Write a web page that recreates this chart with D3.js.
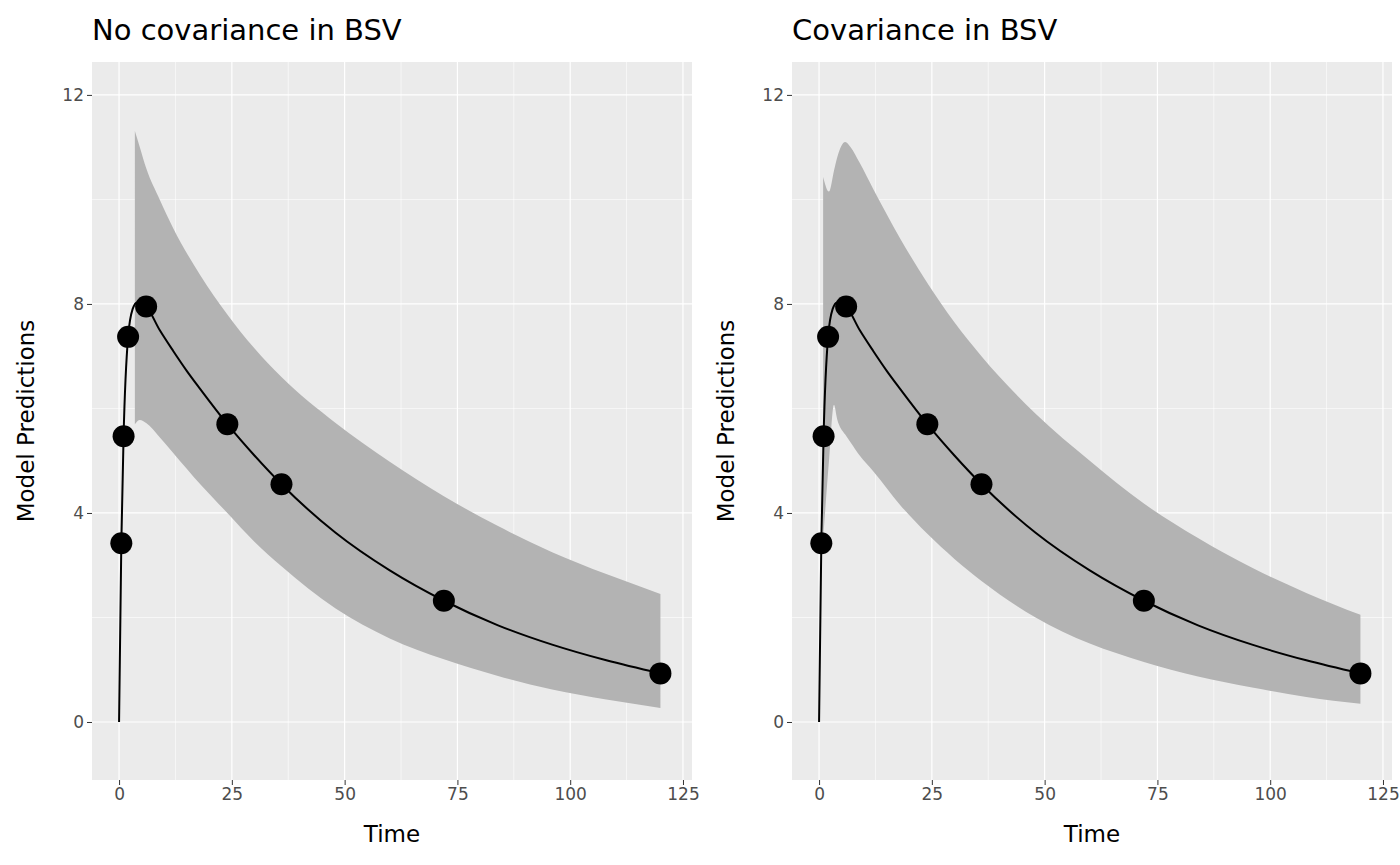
<!DOCTYPE html><html><head><meta charset="utf-8"><script src="https://cdn.jsdelivr.net/npm/d3@7"></script>
<style>body{margin:0;background:#fff}text{font-family:"DejaVu Sans",sans-serif}</style></head><body><svg id="c" width="1400" height="865"></svg><script>
const titles=["No covariance in BSV","Covariance in BSV"];
const lineT=[0,0.5,1,2,3,4,6,9,12,15,18,24,30,36,48,60,72,84,96,108,120];
const lineV=[0,3.42,5.47,7.37,7.9,8.03,7.95,7.5,7.1,6.72,6.37,5.7,5.1,4.55,3.62,2.9,2.32,1.85,1.48,1.18,0.93];
const obsT=[0.5,1,2,6,24,36,72,120];
const obsV=[3.42,5.47,7.37,7.95,5.7,4.55,2.32,0.93];
const ribT1=[3.5,4.6,6,9,12,18,24,30,36,48,60,72,84,96,108,120];
const ribLo1=[5.7,5.78,5.72,5.45,5.15,4.55,4.0,3.45,2.98,2.17,1.6,1.2,0.88,0.62,0.43,0.27];
const ribHi1=[11.31,11.0,10.6,10.0,9.45,8.55,7.8,7.15,6.6,5.72,4.98,4.32,3.75,3.25,2.83,2.45];
const ribT2=[0.9,2.2,3.3,4,5.8,7,9,12,18,24,30,36,48,60,72,84,96,108,120];
const ribLo2=[3.5,5.0,6.07,5.8,5.5,5.35,5.1,4.8,4.15,3.6,3.12,2.7,2.0,1.5,1.15,0.87,0.66,0.48,0.35];
const ribHi2=[10.43,10.15,10.55,10.8,11.1,11.0,10.7,10.2,9.25,8.4,7.65,7.0,5.9,5.0,4.18,3.52,2.95,2.47,2.05];
const xTicks=[0,25,50,75,100,125], yTicks=[0,4,8,12];
const svg=d3.select("#c");
const panels=[{x0:92,rt:ribT1,lo:ribLo1,hi:ribHi1},{x0:792,rt:ribT2,lo:ribLo2,hi:ribHi2}];
panels.forEach((p,i)=>{
 const x=d3.scaleLinear().domain([-6,127]).range([p.x0,p.x0+600]);
 const y=d3.scaleLinear().domain([-1.11,12.63]).range([780,62]);
 const g=svg.append("g");
 g.append("rect").attr("x",p.x0).attr("y",62).attr("width",600).attr("height",718).attr("fill","#ebebeb");
 const minorX=[12.5,37.5,62.5,87.5,112.5], minorY=[2,6,10];
 minorX.forEach(v=>g.append("line").attr("x1",x(v)).attr("x2",x(v)).attr("y1",62).attr("y2",780).attr("stroke","#fff").attr("stroke-width",0.6));
 minorY.forEach(v=>g.append("line").attr("y1",y(v)).attr("y2",y(v)).attr("x1",p.x0).attr("x2",p.x0+600).attr("stroke","#fff").attr("stroke-width",0.6));
 xTicks.forEach(v=>g.append("line").attr("x1",x(v)).attr("x2",x(v)).attr("y1",62).attr("y2",780).attr("stroke","#fff").attr("stroke-width",1.2));
 yTicks.forEach(v=>g.append("line").attr("y1",y(v)).attr("y2",y(v)).attr("x1",p.x0).attr("x2",p.x0+600).attr("stroke","#fff").attr("stroke-width",1.2));
 const rd=p.rt.map((t,j)=>({t,lo:p.lo[j],hi:p.hi[j]}));
 g.append("path").datum(rd).attr("fill","#b3b3b3").attr("d",d3.area().x(d=>x(d.t)).y0(d=>y(d.lo)).y1(d=>y(d.hi)).curve(d3.curveMonotoneX));
 g.append("path").datum(lineT.map((t,j)=>[t,lineV[j]])).attr("fill","none").attr("stroke","#000").attr("stroke-width",2)
  .attr("d",d3.line().x(d=>x(d[0])).y(d=>y(d[1])).curve(d3.curveMonotoneX));
 obsT.forEach((t,j)=>g.append("circle").attr("cx",x(t)).attr("cy",y(obsV[j])).attr("r",11).attr("fill","#000"));
 const xa=g.append("g").attr("transform","translate(0,780)").call(d3.axisBottom(x).tickValues(xTicks).tickSize(5).tickPadding(3));
 const ya=g.append("g").attr("transform",`translate(${p.x0},0)`).call(d3.axisLeft(y).tickValues(yTicks).tickSize(5).tickPadding(3));
 [xa,ya].forEach(a=>{a.select(".domain").remove();a.selectAll("line").attr("stroke","#333");a.selectAll("text").attr("fill","#4d4d4d").style("font-size","17px").style("font-family","DejaVu Sans");});
 g.append("text").attr("x",p.x0+300).attr("y",842).attr("text-anchor","middle").style("font-size","23px").text("Time");
 g.append("text").attr("transform",`translate(${p.x0-58},421) rotate(-90)`).attr("text-anchor","middle").style("font-size","23px").text("Model Predictions");
 g.append("text").attr("x",p.x0).attr("y",40).style("font-size","29px").text(titles[i]);
});
</script></body></html>
